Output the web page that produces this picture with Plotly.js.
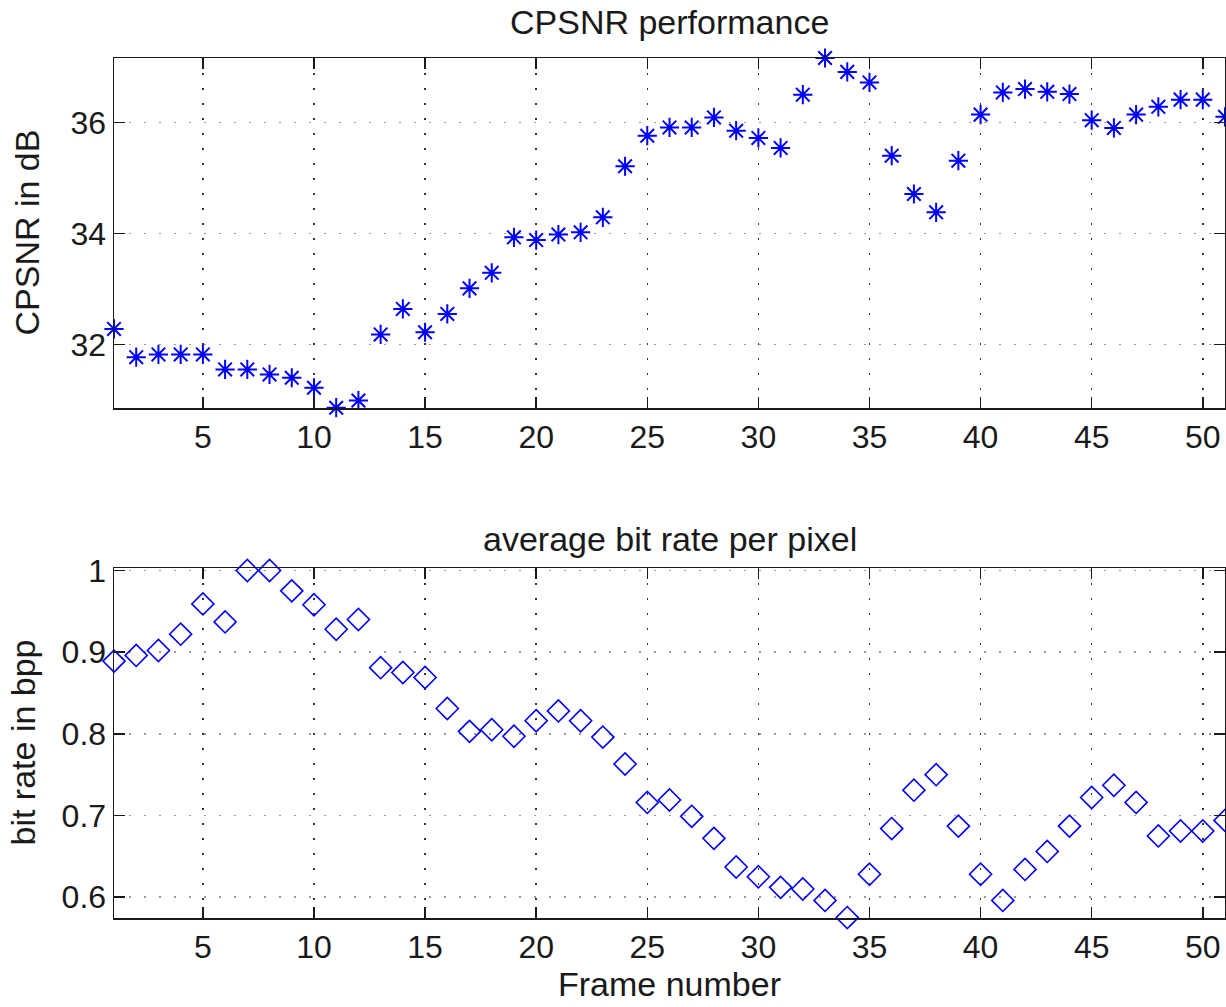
<!DOCTYPE html>
<html>
<head>
<meta charset="utf-8">
<script src="https://cdn.plot.ly/plotly-3.0.1.min.js"></script>
<style>html,body{margin:0;padding:0;background:#fff;}#chart{width:1226px;height:1007px;}</style>
</head>
<body>
<div id="chart"></div>
<script>
// ---- data ----
const frames = [1,2,3,4,5,6,7,8,9,10,11,12,13,14,15,16,17,18,19,20,21,22,23,24,25,26,27,28,29,30,31,32,33,34,35,36,37,38,39,40,41,42,43,44,45,46,47,48,49,50,51];
const cpsnr = [32.28,31.77,31.82,31.82,31.82,31.55,31.55,31.46,31.40,31.22,30.86,30.99,32.18,32.64,32.22,32.55,33.01,33.29,33.93,33.88,33.98,34.02,34.29,35.21,35.76,35.91,35.91,36.09,35.85,35.72,35.54,36.50,37.16,36.91,36.72,35.40,34.71,34.38,35.31,36.14,36.54,36.60,36.55,36.51,36.04,35.90,36.14,36.28,36.41,36.41,36.10];
const bpp = [0.889,0.896,0.902,0.922,0.959,0.937,1.000,1.000,0.975,0.958,0.928,0.940,0.881,0.875,0.869,0.831,0.803,0.805,0.797,0.816,0.828,0.816,0.796,0.763,0.716,0.719,0.699,0.672,0.637,0.625,0.612,0.610,0.596,0.575,0.628,0.684,0.731,0.750,0.687,0.628,0.596,0.634,0.656,0.687,0.722,0.737,0.716,0.675,0.681,0.681,0.694];
const xTicks = [5,10,15,20,25,30,35,40,45,50];
const xTickText = ["5","10","15","20","25","30","35","40","45","50"];
const topYTicks = [32,34,36];
const topYTickText = ["32","34","36"];
const botYTicks = [0.6,0.7,0.8,0.9,1.0];
const botYTickText = ["0.6","0.7","0.8","0.9","1"];
const topTitle = "CPSNR performance";
const botTitle = "average bit rate per pixel";
const topYLabel = "CPSNR in dB";
const botYLabel = "bit rate in bpp";
const xLabel = "Frame number";

// ---- layout helpers ----
const W = 1226, H = 1007;
const M = {l:114, r:1, t:58, b:89};
const PW = W - M.l - M.r, PH = H - M.t - M.b;
const px2x = p => (p - M.l) / PW;
const py2y = p => (H - M.b - p) / PH;

const FONT = "Liberation Sans, Arial, Helvetica, sans-serif";
const axisCommon = {
  showline: true, linecolor: '#1a1a1a', linewidth: 1.5, mirror: 'allticks',
  ticks: 'inside', ticklen: 11, tickwidth: 1.5, tickcolor: '#1a1a1a',
  zeroline: false, showgrid: true, griddash: '2px,13px', gridwidth: 1.5,
  tickfont: {family: FONT, size: 32, color: '#1a1a1a'}
};

const traces = [
  {x: frames, y: cpsnr, xaxis: 'x', yaxis: 'y', mode: 'markers', type: 'scatter', cliponaxis: false,
   marker: {symbol: 'asterisk-open', size: 16, color: '#0000ff', line: {color: '#0000ff', width: 2}}},
  {x: frames, y: bpp, xaxis: 'x2', yaxis: 'y2', mode: 'markers', type: 'scatter', cliponaxis: false,
   marker: {symbol: 'diamond-open', size: 17, color: '#0000ff', line: {color: '#0000ff', width: 1.6}}}
];

const topDom = [py2y(408), 1];
const botDom = [0, py2y(568)];

const layout = {
  width: W, height: H, showlegend: false,
  margin: M, paper_bgcolor: '#fff', plot_bgcolor: '#fff',
  font: {family: FONT, color: '#1a1a1a'},
  xaxis: Object.assign({}, axisCommon, {domain: [0,1], anchor: 'y', range: [1, 51], tickvals: xTicks, ticktext: xTickText, gridcolor: '#333'}),
  yaxis: Object.assign({}, axisCommon, {domain: topDom, anchor: 'x', range: [30.855, 37.16], tickvals: topYTicks, ticktext: topYTickText, gridcolor: '#999'}),
  xaxis2: Object.assign({}, axisCommon, {domain: [0,1], anchor: 'y2', range: [1, 51], tickvals: xTicks, ticktext: xTickText, gridcolor: '#333'}),
  yaxis2: Object.assign({}, axisCommon, {domain: botDom, anchor: 'x2', range: [0.5745, 1.003], tickvals: botYTicks, ticktext: botYTickText, gridcolor: '#999'}),
  annotations: [
    {text: topTitle, xref: 'paper', yref: 'paper', x: 0.5, y: topDom[1], xanchor: 'center', yanchor: 'bottom', yshift: 15, showarrow: false, font: {family: FONT, size: 34, color: '#1a1a1a'}},
    {text: botTitle, xref: 'paper', yref: 'paper', x: 0.5, y: botDom[1], xanchor: 'center', yanchor: 'bottom', yshift: 8, showarrow: false, font: {family: FONT, size: 34, color: '#1a1a1a'}},
    {text: topYLabel, xref: 'paper', yref: 'paper', x: px2x(26.5), y: (topDom[0]+topDom[1])/2, xanchor: 'center', yanchor: 'middle', textangle: -90, showarrow: false, font: {family: FONT, size: 34, color: '#1a1a1a'}},
    {text: botYLabel, xref: 'paper', yref: 'paper', x: px2x(22.5), y: (botDom[0]+botDom[1])/2, xanchor: 'center', yanchor: 'middle', textangle: -90, showarrow: false, font: {family: FONT, size: 34, color: '#1a1a1a'}},
    {text: xLabel, xref: 'paper', yref: 'paper', x: 0.5, y: py2y(983.5), xanchor: 'center', yanchor: 'middle', showarrow: false, font: {family: FONT, size: 34, color: '#1a1a1a'}}
  ]
};

Plotly.newPlot('chart', traces, layout, {staticPlot: true, displayModeBar: false});
</script>
</body>
</html>
